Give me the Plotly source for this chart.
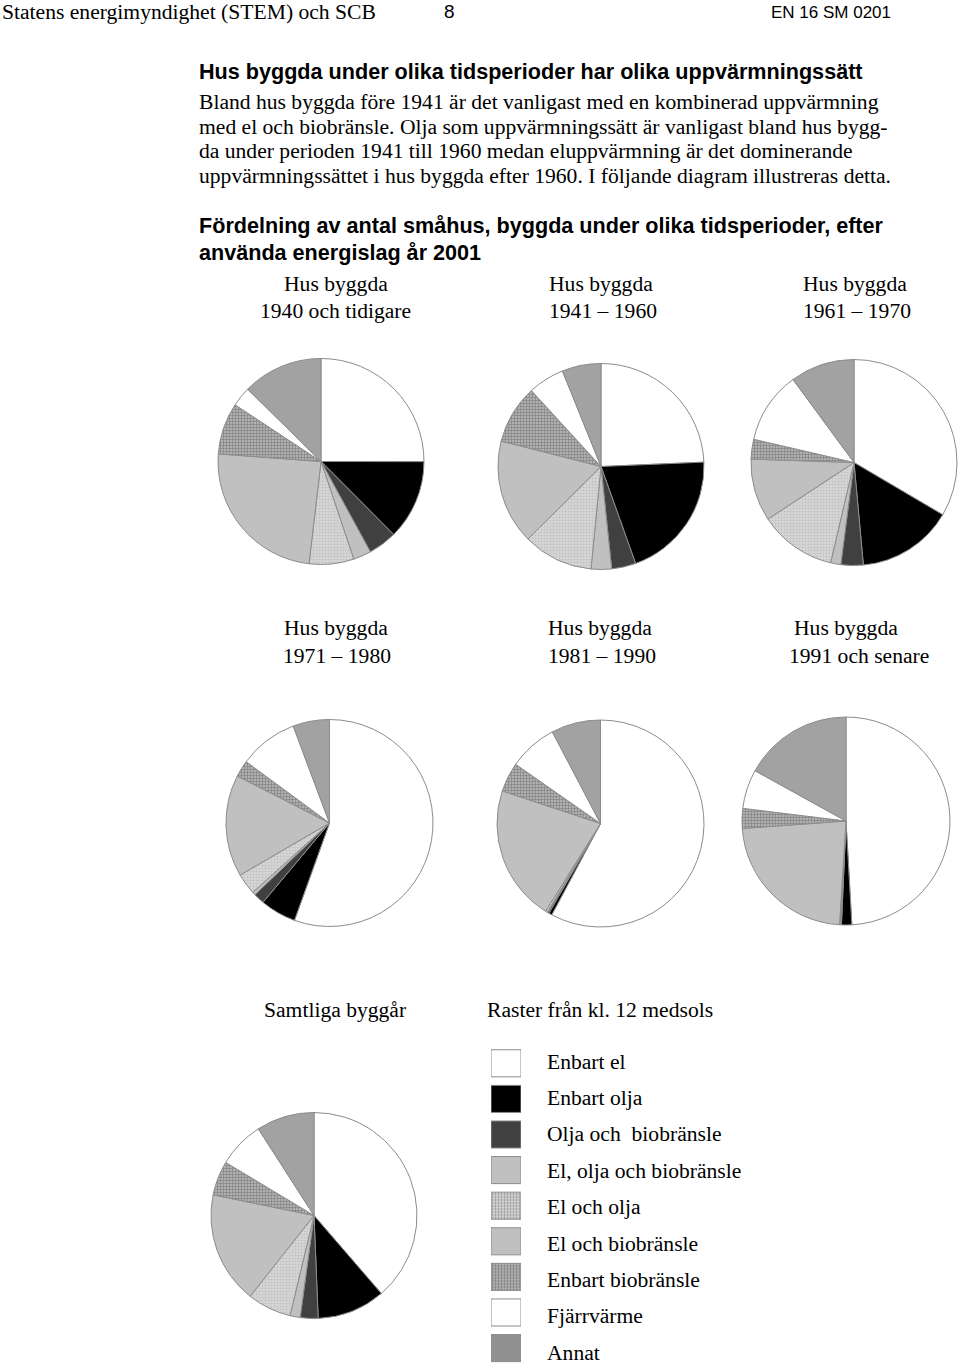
import plotly.graph_objects as go

W, H = 960, 1364

# ---------------- data ----------------
categories = ["Enbart el", "Enbart olja", "Olja och  biobränsle", "El, olja och biobränsle",
              "El och olja", "El och biobränsle", "Enbart biobränsle", "Fjärrvärme", "Annat"]

period_labels = ["1940 och tidigare", "1941 – 1960", "1961 – 1970",
                 "1971 – 1980", "1981 – 1990", "1991 och senare"]

share_1940_tidigare = [25.0, 12.5, 4.5, 2.8, 7.0, 24.3, 8.1, 3.1, 12.6]
share_1941_1960 = [24.3, 20.2, 3.8, 3.2, 11.0, 16.4, 9.2, 5.7, 6.1]
share_1961_1970 = [33.5, 15.1, 3.5, 1.6, 12.1, 9.8, 3.1, 11.3, 10.1]
share_1971_1980 = [55.5, 5.6, 1.7, 0.5, 3.3, 15.9, 2.6, 9.2, 5.7]
share_1981_1990 = [57.8, 0.5, 0.2, 0.1, 0.3, 21.2, 4.6, 7.6, 7.7]
share_1991_senare = [49.2, 1.6, 0.1, 0.1, 0.1, 22.9, 3.1, 6.1, 17.0]
share_samtliga = [38.7, 10.7, 2.8, 1.6, 6.9, 17.6, 5.4, 7.3, 9.1]

# ---------------- styles ----------------
SERIF = "Liberation Serif, Times New Roman, serif"
SANS = "Liberation Sans, Arial, sans-serif"
FS = 21.6

fill_bg = ["#ffffff", "#000000", "#404040", "#c0c0c0", "#d6d6d6", "#c0c0c0", "#b0b0b0", "#ffffff", "#ababab"]
pat_fg = ["#ffffff", "#000000", "#404040", "#c0c0c0", "#ababab", "#c0c0c0", "#484848", "#ffffff", "#868686"]
pat_shape = ["", "", "", "", ".", "", "+", "", "|"]
pat_size = [4, 4, 4, 4, 3, 4, 3, 4, 2]
pat_sol = [0.3, 0.3, 0.3, 0.3, 0.35, 0.3, 0.35, 0.3, 0.5]
edge = "#8c8c8c"


def px(x):
    return x / W


def py(y):
    return 1 - y / H


def pattern():
    return dict(shape=pat_shape, fgcolor=pat_fg, size=pat_size, solidity=pat_sol, fillmode="overlay")


fig = go.Figure()

pies = [
    (share_1940_tidigare, 321, 461.5, 103),
    (share_1941_1960, 601, 466.5, 103),
    (share_1961_1970, 854, 462.5, 103),
    (share_1971_1980, 329.5, 823, 103.5),
    (share_1981_1990, 600.5, 823.5, 103.5),
    (share_1991_senare, 846, 821, 104),
    (share_samtliga, 314, 1215.5, 103),
]

for vals, cx, cy, r in pies:
    fig.add_trace(go.Pie(
        labels=categories, values=vals, sort=False, direction="clockwise", rotation=0,
        textinfo="none", hoverinfo="label+percent", showlegend=False,
        marker=dict(colors=fill_bg, line=dict(color=edge, width=1), pattern=pattern()),
        domain=dict(x=[px(cx - r), px(cx + r)], y=[py(cy + r), py(cy - r)]),
    ))

# legend swatches as bars on hidden axes
box_top, row_step = 1045.5, 35.6
fig.add_trace(go.Bar(
    x=[1] * len(categories), y=categories, orientation="h", base=0, width=0.76,
    marker=dict(color=fill_bg, line=dict(color=edge, width=1), pattern=pattern()),
    showlegend=False, hoverinfo="y", xaxis="x", yaxis="y",
))

fig.update_layout(
    xaxis=dict(domain=[px(491), px(521)], range=[0, 1], visible=False, fixedrange=True),
    yaxis=dict(domain=[0, py(box_top)], categoryorder="array", categoryarray=categories,
               range=[-0.5 + (H - box_top) / row_step, -0.5], visible=False, fixedrange=True),
)

ann = []


def text(x, y, s, size=FS, family=SERIF, anchor="left", bold=False):
    if bold:
        s = "<b>" + s + "</b>"
    ann.append(dict(x=px(x), y=py(y), xref="paper", yref="paper", text=s, showarrow=False,
                    xanchor=anchor, yanchor="middle", font=dict(family=family, size=size, color="#000")))


# header
text(0, 12, "Statens energimyndighet (STEM) och SCB")
text(449, 12, "8", size=19, family=SANS, anchor="center")
text(893, 13, "EN 16 SM 0201", size=17, family=SANS, anchor="right")

text(197, 72, "Hus byggda under olika tidsperioder har olika uppvärmningssätt", family=SANS, bold=True)
para = [
    "Bland hus byggda före 1941 är det vanligast med en kombinerad uppvärmning",
    "med el och biobränsle. Olja som uppvärmningssätt är vanligast bland hus bygg-",
    "da under perioden 1941 till 1960 medan eluppvärmning är det dominerande",
    "uppvärmningssättet i hus byggda efter 1960. I följande diagram illustreras detta.",
]
for i, line in enumerate(para):
    text(197, 102 + i * 24.7, line)

text(197, 226, "Fördelning av antal småhus, byggda under olika tidsperioder, efter", family=SANS, bold=True)
text(197, 252, "använda energislag år 2001", family=SANS, bold=True)

# pie captions
cap_pos = [(282, 258, 284, 311), (547, 547, 284, 311), (801, 801, 284, 311),
           (282, 281, 628, 656), (546, 546, 628, 656), (792, 787, 628, 656)]
for (x1, x2, y1, y2), lab in zip(cap_pos, period_labels):
    text(x1, y1, "Hus byggda")
    text(x2, y2, lab)

text(262, 1010, "Samtliga byggår")
text(485, 1010, "Raster från kl. 12 medsols")

for i, c in enumerate(categories):
    text(545, 1061.5 + i * 36.4, c.replace("  ", "&nbsp; "))

fig.update_layout(
    width=W, height=H, margin=dict(l=0, r=0, t=0, b=0),
    paper_bgcolor="white", plot_bgcolor="white",
    annotations=ann, showlegend=False,
)

fig.write_html("out.html")
